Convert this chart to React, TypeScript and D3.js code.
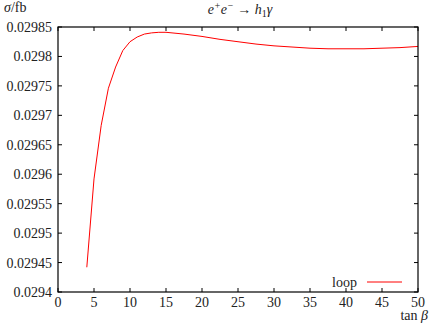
import React from 'react';
import * as d3 from 'd3';

// sigma(e+e- -> h1 gamma) vs tan beta
const tanBeta = [4, 5, 6, 7, 8, 9, 10, 11, 12, 13, 14, 15, 17.5, 20, 22.5, 25, 27.5, 30, 32.5, 35, 37.5, 40, 42.5, 45, 47.5, 50];
const sigma = [
  0.029442, 0.029592, 0.029683, 0.029746, 0.029782, 0.02981, 0.029825, 0.029833, 0.029838, 0.02984,
  0.029841, 0.029841, 0.029838, 0.029834, 0.029829, 0.029825, 0.029821, 0.029818, 0.029816, 0.029814,
  0.029813, 0.029813, 0.029813, 0.029814, 0.029815, 0.029817,
];
const xTicks = [0, 5, 10, 15, 20, 25, 30, 35, 40, 45, 50];
const yTicks = [0.0294, 0.02945, 0.0295, 0.02955, 0.0296, 0.02965, 0.0297, 0.02975, 0.0298, 0.02985];
const yTickLabels = ['0.0294', '0.02945', '0.0295', '0.02955', '0.0296', '0.02965', '0.0297', '0.02975', '0.0298', '0.02985'];

const W = 432;
const H = 327;
const left = 58;
const right = 418;
const top = 27;
const bottom = 292;
const font = "'Liberation Serif', 'DejaVu Serif', serif";

export default function App() {
  const x = d3.scaleLinear().domain([0, 50]).range([left, right]);
  const y = d3.scaleLinear().domain([0.0294, 0.02985]).range([bottom, top]);
  const line = d3
    .line<number>()
    .x((_, i) => x(tanBeta[i]))
    .y((d) => y(d));
  const tick = 4;

  return (
    <svg width={W} height={H} style={{ position: 'absolute', left: 0, top: 0 }}>
      <rect width={W} height={H} fill="#fff" />
      <g stroke="#000" strokeWidth={1}>
        {xTicks.map((t) => (
          <g key={'x' + t}>
            <line x1={x(t)} x2={x(t)} y1={bottom} y2={bottom - tick} />
            <line x1={x(t)} x2={x(t)} y1={top} y2={top + tick} />
          </g>
        ))}
        {yTicks.map((t) => (
          <g key={'y' + t}>
            <line x1={left} x2={left + tick} y1={y(t)} y2={y(t)} />
            <line x1={right} x2={right - tick} y1={y(t)} y2={y(t)} />
          </g>
        ))}
      </g>
      <path d={line(sigma) || ''} fill="none" stroke="#ff0000" strokeWidth={1} />
      <rect x={left} y={top} width={right - left} height={bottom - top} fill="none" stroke="#000" strokeWidth={1.2} />
      <g style={{ fontFamily: font, fontSize: '14px' }} fill="#222">
        {xTicks.map((t) => (
          <text key={'xl' + t} x={x(t)} y={bottom + 15} textAnchor="middle">
            {t}
          </text>
        ))}
        {yTicks.map((t, i) => (
          <text key={'yl' + t} x={left - 6} y={y(t) + 5} textAnchor="end">
            {yTickLabels[i]}
          </text>
        ))}
        <text x={4} y={12}>
          <tspan fontStyle="italic">σ</tspan>/fb
        </text>
        <text x={428} y={320} textAnchor="end">
          tan <tspan fontStyle="italic">β</tspan>
        </text>
        <text x={240} y={14} textAnchor="middle" fontStyle="italic">
          e<tspan dy={-5} fontSize={10}>+</tspan>
          <tspan dy={5}>e</tspan>
          <tspan dy={-5} fontSize={10}>−</tspan>
          <tspan dy={5} fontStyle="normal"> → </tspan>h<tspan dy={3} fontSize={10} fontStyle="normal">1</tspan>
          <tspan dy={-3}>γ</tspan>
        </text>
        <text x={357} y={287} textAnchor="end">
          loop
        </text>
      </g>
      <line x1={367} x2={402} y1={282} y2={282} stroke="#ff0000" strokeWidth={1} />
    </svg>
  );
}
